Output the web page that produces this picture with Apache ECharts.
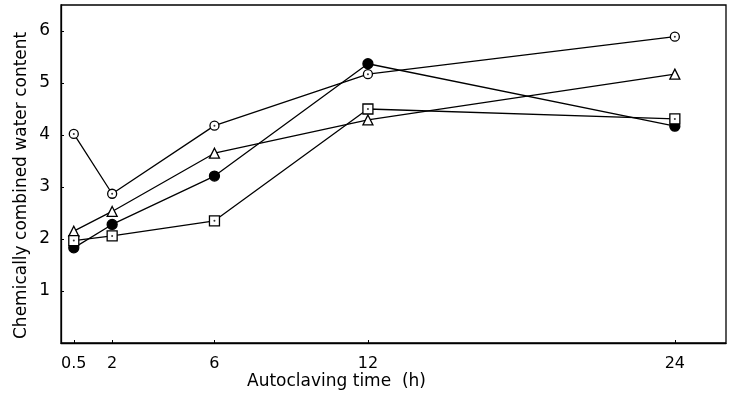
<!DOCTYPE html>
<html><head><meta charset="utf-8">
<script src="https://cdn.jsdelivr.net/npm/echarts@6/dist/echarts.min.js"></script>
<style>html,body{margin:0;padding:0;background:#fff}#c{width:729px;height:401px}</style>
</head><body><div id="c"></div>
<script>
const times = [0.5, 2, 6, 12, 24];
const xTicks = [0.5, 2, 6, 12, 24];
const yTicks = [1, 2, 3, 4, 5, 6];
const openCircle = [4.02, 2.87, 4.18, 5.17, 5.89];
const triangle = [2.15, 2.53, 3.65, 4.29, 5.17];
const filledCircle = [1.83, 2.28, 3.21, 5.37, 4.17];
const square = [1.97, 2.06, 2.35, 4.50, 4.31];
const yTitle = 'Chemically combined water content';
const xTitle = 'Autoclaving time  (h)';

const pts = v => times.map((t, i) => [t, v[i]]);
const F = 'DejaVu Sans';
const lineSeries = (data, symbol, size, fill) => ({
  type: 'line', data: pts(data), symbol, symbolSize: size, showSymbol: true,
  lineStyle: { color: '#000', width: 1.3 },
  itemStyle: { color: fill, borderColor: '#000', borderWidth: 1.3 },
  animation: false, z: 3
});
const dotSeries = data => ({
  type: 'scatter', data: pts(data), symbol: 'circle', symbolSize: 2,
  itemStyle: { color: '#000' }, animation: false, z: 5, silent: true
});
const chart = echarts.init(document.getElementById('c'), null, { renderer: 'canvas' });
chart.setOption({
  backgroundColor: '#fff',
  grid: { left: 61, right: 3, top: 5, bottom: 58, show: true, borderColor: '#000', borderWidth: 1.3, backgroundColor: 'transparent' },
  xAxis: {
    type: 'value', min: 0, max: 26,
    axisLine: { show: true, lineStyle: { color: '#000', width: 1.3 } },
    axisTick: { show: true, inside: true, length: 3, customValues: xTicks, lineStyle: { color: '#000' } },
    axisLabel: { customValues: xTicks, color: '#000', fontFamily: F, fontSize: 16, margin: 13 },
    splitLine: { show: false }
  },
  yAxis: {
    type: 'value', min: 0, max: 6.5,
    axisLine: { show: true, lineStyle: { color: '#000', width: 1.3 } },
    axisTick: { show: true, inside: true, length: 3, customValues: yTicks, lineStyle: { color: '#000' } },
    axisLabel: { customValues: yTicks, color: '#000', fontFamily: F, fontSize: 17, margin: 11 },
    splitLine: { show: false }
  },
  graphic: [
    { type: 'text', left: 247, top: 373, style: { text: xTitle, fontFamily: F, fontSize: 17, fill: '#000' } },
    { type: 'text', x: 22, y: 339, rotation: Math.PI / 2, style: { text: yTitle, fontFamily: F, fontSize: 17, fill: '#000', align: 'left', verticalAlign: 'middle' } }
  ],
  series: [
    lineSeries(openCircle, 'circle', 9, '#fff'),
    lineSeries(triangle, 'triangle', 10, '#fff'),
    lineSeries(filledCircle, 'circle', 10, '#000'),
    lineSeries(square, 'rect', 10, '#fff'),
    dotSeries(openCircle),
    dotSeries(square)
  ]
});
</script></body></html>
